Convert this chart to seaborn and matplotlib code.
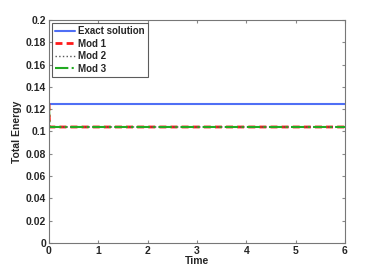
import matplotlib
matplotlib.use('Agg')
import matplotlib.pyplot as plt
import numpy as np
import pandas as pd
import seaborn as sns

# energy over time
time = [0.0, 0.01, 1.0, 2.0, 3.0, 4.0, 5.0, 6.0]
exact = [0.125, 0.125, 0.125, 0.125, 0.125, 0.125, 0.125, 0.125]
mod1 = [0.125, 0.104, 0.104, 0.104, 0.104, 0.104, 0.104, 0.104]
mod2 = [0.125, 0.104, 0.104, 0.104, 0.104, 0.104, 0.104, 0.104]
mod3 = [0.125, 0.104, 0.104, 0.104, 0.104, 0.104, 0.104, 0.104]

sns.set_style('white')
plt.rcParams['font.family'] = ['Liberation Sans', 'DejaVu Sans']
plt.rcParams['font.weight'] = 'bold'

fig = plt.figure(figsize=(3.81, 2.73), dpi=100)
ax = fig.add_axes([0.1286, 0.110, 0.7769, 0.817])

sns.lineplot(x=time, y=exact, ax=ax, color='#4f6ff5', lw=1.5, label='Exact solution')
sns.lineplot(x=time, y=mod1, ax=ax, color='#ff1a1a', lw=2.0, ls=(0, (2.5, 1.5)), label='Mod 1')
sns.lineplot(x=time, y=mod2, ax=ax, color='#555555', lw=1.0, ls=':', label='Mod 2')
sns.lineplot(x=time, y=mod3, ax=ax, color='#22aa22', lw=1.5, ls='-.', label='Mod 3')

ax.set_xlim(0, 6)
ax.set_ylim(0, 0.2)
ax.set_xticks(range(7))
ax.set_yticks(np.arange(0, 0.201, 0.02))
ax.set_yticklabels(['0', '0.02', '0.04', '0.06', '0.08', '0.1', '0.12', '0.14', '0.16', '0.18', '0.2'])
ax.tick_params(direction='in', length=2.5, labelsize=7.5, color='#888888', pad=2,
               top=True, right=True, bottom=True, left=True)
for lab in ax.get_xticklabels() + ax.get_yticklabels():
    lab.set_fontweight('bold')
for s in ax.spines.values():
    s.set_color('#777777')
    s.set_linewidth(0.8)
ax.set_xlabel('Time', fontsize=7.5, fontweight='bold', labelpad=0)
ax.set_ylabel('Total Energy', fontsize=7.5, fontweight='bold', labelpad=3)

leg = ax.legend(loc='upper left', fontsize=7, frameon=True, fancybox=False,
                borderpad=0.35, labelspacing=0.25, handlelength=2.0, handletextpad=0.3,
                borderaxespad=0.3)
leg.get_frame().set_edgecolor('#333333')
leg.get_frame().set_linewidth(0.8)
for t in leg.get_texts():
    t.set_fontweight('bold')

fig.savefig('out.png', dpi=100)
